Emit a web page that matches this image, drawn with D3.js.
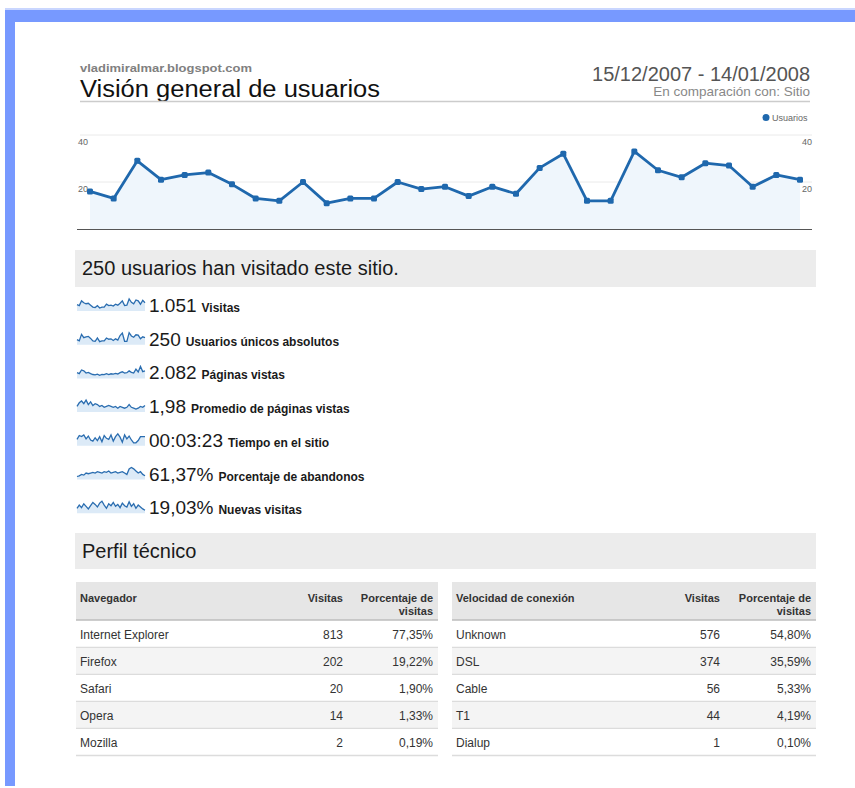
<!DOCTYPE html>
<html><head><meta charset="utf-8">
<script src="https://cdn.jsdelivr.net/npm/d3@7"></script>
<style>
html,body{margin:0;padding:0;background:#fff;}
svg{display:block;font-family:"Liberation Sans",Arial,Helvetica,sans-serif;}
</style></head><body>
<svg id="c" width="855" height="788"></svg>
<script>
// ---------- data ----------
const siteName = "vladimiralmar.blogspot.com";
const pageTitle = "Visión general de usuarios";
const dateRange = "15/12/2007 - 14/01/2008";
const comparison = "En comparación con: Sitio";
const seriesName = "Usuarios";
const startDate = new Date(2007, 11, 15);
const endDate = new Date(2008, 0, 15);
const usuarios = [16,13,29,21,23,24,19,13,12,20,11,13,13,20,17,18,14,18,15,26,32,12,12,33,25,22,28,27,18,23,21];
const yTicks = [20, 40];

const summaryText = "250 usuarios han visitado este sitio.";
const metricValues = ["1.051", "250", "2.082", "1,98", "00:03:23", "61,37%", "19,03%"];
const metricLabels = ["Visitas", "Usuarios únicos absolutos", "Páginas vistas", "Promedio de páginas vistas", "Tiempo en el sitio", "Porcentaje de abandonos", "Nuevas visitas"];
const sparkVisitas   = [32,30,40,36,34,35,31,27,26,30,25,27,27,33,30,31,29,33,31,35,40,30,31,44,37,34,42,40,33,41,36];
const sparkUsuarios  = usuarios;
const sparkPaginas   = [60,55,75,70,58,62,55,50,48,52,45,50,49,55,50,54,52,56,53,60,65,58,60,70,62,58,80,64,95,66,70];
const sparkPromedio  = [1.9,2.3,2.5,2.2,2.6,2.1,2.4,2.0,2.2,2.1,1.9,2.0,1.8,1.9,2.0,1.9,1.8,1.9,1.7,1.9,1.8,1.7,1.8,2.1,1.8,1.7,1.6,1.7,1.9,1.8,2.0];
const sparkTiempo    = [180,250,230,260,190,240,170,150,210,160,230,140,250,200,180,260,150,230,280,220,130,260,190,240,170,120,120,160,230,230,230];
const sparkAbandonos = [55,56,58,57,60,59,60,61,60,62,61,60,62,61,63,60,61,62,60,61,62,60,58,66,68,66,63,60,62,58,56];
const sparkNuevas    = [15,20,16,22,18,14,19,24,21,17,23,26,20,15,22,19,24,18,21,16,23,19,17,25,18,22,15,20,17,14,12];
const sparkSeries = [sparkVisitas, sparkUsuarios, sparkPaginas, sparkPromedio, sparkTiempo, sparkAbandonos, sparkNuevas];

const sectionTitle = "Perfil técnico";
const browserHeader = ["Navegador", "Visitas", "Porcentaje de", "visitas"];
const browserNames  = ["Internet Explorer", "Firefox", "Safari", "Opera", "Mozilla"];
const browserVisits = [813, 202, 20, 14, 2];
const browserPct    = ["77,35%", "19,22%", "1,90%", "1,33%", "0,19%"];
const connHeader = ["Velocidad de conexión", "Visitas", "Porcentaje de", "visitas"];
const connNames  = ["Unknown", "DSL", "Cable", "T1", "Dialup"];
const connVisits = [576, 374, 56, 44, 1];
const connPct    = ["54,80%", "35,59%", "5,33%", "4,19%", "0,10%"];

// ---------- drawing ----------
const svg = d3.select("#c");
const blue = "#1f68ad";

// frame
svg.append("rect").attr("x", 5).attr("y", 8).attr("width", 850).attr("height", 2).attr("fill", "#c9d6ff");
svg.append("rect").attr("x", 5).attr("y", 10).attr("width", 850).attr("height", 12).attr("fill", "#7799ff");
svg.append("rect").attr("x", 5).attr("y", 10).attr("width", 10).attr("height", 776).attr("fill", "#7799ff");

// header
svg.append("text").attr("x", 80).attr("y", 72).attr("font-size", 11.5).attr("font-weight", "bold")
  .attr("fill", "#808080").attr("textLength", 172).attr("lengthAdjust", "spacingAndGlyphs").text(siteName);
svg.append("text").attr("x", 80).attr("y", 97).attr("font-size", 23.5).attr("fill", "#111")
  .attr("textLength", 300).attr("lengthAdjust", "spacingAndGlyphs").text(pageTitle);
svg.append("text").attr("x", 810).attr("y", 81).attr("text-anchor", "end").attr("font-size", 20).attr("fill", "#555").text(dateRange);
svg.append("text").attr("x", 810).attr("y", 96).attr("text-anchor", "end").attr("font-size", 13.5).attr("fill", "#888").text(comparison);
svg.append("line").attr("x1", 80).attr("x2", 810).attr("y1", 101.5).attr("y2", 101.5).attr("stroke", "#ccc").attr("stroke-width", 1.5);

// legend
svg.append("circle").attr("cx", 766).attr("cy", 117.5).attr("r", 3.5).attr("fill", blue);
svg.append("text").attr("x", 772).attr("y", 120.5).attr("font-size", 9).attr("fill", "#666").text(seriesName);

// main chart
const dates = d3.timeDay.range(startDate, endDate);
const x = d3.scaleTime().domain([dates[0], dates[dates.length - 1]]).range([90, 800]);
const y = d3.scaleLinear().domain([0, 40]).range([229, 135]);
const pts = dates.map((d, i) => ({d, v: usuarios[i]}));

svg.append("g").selectAll("line").data(yTicks).join("line")
  .attr("x1", 80).attr("x2", 812).attr("y1", d => y(d)).attr("y2", d => y(d))
  .attr("stroke", "#eaeaea");

svg.append("path").datum(pts)
  .attr("d", d3.area().x(p => x(p.d)).y0(y(0)).y1(p => y(p.v)))
  .attr("fill", "#eff6fc");

const axL = svg.append("g").attr("transform", "translate(78,0)")
  .call(d3.axisRight(y).tickValues(yTicks).tickSize(0).tickPadding(0));
axL.select(".domain").remove();
axL.selectAll("text").attr("font-size", 9).attr("fill", "#666").attr("dy", "9");
const axR = svg.append("g").attr("transform", "translate(812,0)")
  .call(d3.axisLeft(y).tickValues(yTicks).tickSize(0).tickPadding(0));
axR.select(".domain").remove();
axR.selectAll("text").attr("font-size", 9).attr("fill", "#666").attr("dy", "9");
svg.selectAll(".tick text").attr("font-family", "Liberation Sans, Arial, sans-serif");

svg.append("path").datum(pts)
  .attr("d", d3.line().x(p => x(p.d)).y(p => y(p.v)))
  .attr("fill", "none").attr("stroke", blue).attr("stroke-width", 2.8).attr("stroke-linejoin", "round");
svg.append("g").selectAll("rect").data(pts).join("rect")
  .attr("x", p => x(p.d) - 3).attr("y", p => y(p.v) - 3).attr("width", 6).attr("height", 6).attr("rx", 1.5)
  .attr("fill", blue);

svg.append("line").attr("x1", 77).attr("x2", 812).attr("y1", 229.5).attr("y2", 229.5).attr("stroke", "#555").attr("stroke-width", 1.2);

// summary box
svg.append("rect").attr("x", 75).attr("y", 250).attr("width", 741).attr("height", 37).attr("fill", "#ececec");
svg.append("text").attr("x", 82).attr("y", 275).attr("font-size", 20).attr("fill", "#1a1a1a").text(summaryText);

// metric rows with sparklines
const rowY = d3.range(metricValues.length).map(i => 305 + i * 33.7);
const sx = d3.scaleLinear().domain([0, 30]).range([77, 145]);
metricValues.forEach((val, i) => {
  const cy = rowY[i];
  const data = sparkSeries[i];
  const ext = d3.extent(data);
  const sy = d3.scaleLinear().domain(ext).range([cy + 3, cy - 6]);
  const g = svg.append("g");
  g.append("path").datum(data)
    .attr("d", d3.area().x((d, j) => sx(j)).y0(cy + 6).y1(d => sy(d)))
    .attr("fill", "#dceaf7");
  g.append("path").datum(data)
    .attr("d", d3.line().x((d, j) => sx(j)).y(d => sy(d)))
    .attr("fill", "none").attr("stroke", "#2a6db0").attr("stroke-width", 1.3);
  const t = svg.append("text").attr("x", 149).attr("y", cy + 7).attr("fill", "#1a1a1a");
  t.append("tspan").attr("font-size", 19).text(val);
  t.append("tspan").attr("font-size", 12).attr("font-weight", "bold").attr("dx", 5).text(metricLabels[i]);
});

// section box
svg.append("rect").attr("x", 75).attr("y", 533).attr("width", 741).attr("height", 36).attr("fill", "#ececec");
svg.append("text").attr("x", 82).attr("y", 558).attr("font-size", 20).attr("fill", "#1a1a1a").text(sectionTitle);

// tables
function drawTable(x0, x1, header, names, visits, pcts, visRight, pctRight) {
  const g = svg.append("g").attr("font-size", 12);
  g.append("rect").attr("x", x0).attr("y", 582).attr("width", x1 - x0).attr("height", 38).attr("fill", "#e6e6e6");
  g.append("line").attr("x1", x0).attr("x2", x1).attr("y1", 620).attr("y2", 620).attr("stroke", "#bdbdbd").attr("stroke-width", 1.5);
  const h = g.append("g").attr("font-size", 11).attr("font-weight", "bold").attr("fill", "#333");
  h.append("text").attr("x", x0 + 4).attr("y", 602).text(header[0]);
  h.append("text").attr("x", visRight).attr("y", 602).attr("text-anchor", "end").text(header[1]);
  h.append("text").attr("x", pctRight).attr("y", 602).attr("text-anchor", "end").text(header[2]);
  h.append("text").attr("x", pctRight).attr("y", 615).attr("text-anchor", "end").text(header[3]);
  const rowH = 27;
  const rows = g.selectAll("g.row").data(names).join("g").attr("class", "row")
    .attr("transform", (d, i) => `translate(0,${621 + i * rowH})`);
  rows.append("rect").attr("x", x0).attr("width", x1 - x0).attr("height", rowH - 1)
    .attr("fill", (d, i) => i % 2 ? "#f4f4f4" : "#fff");
  rows.append("line").attr("x1", x0).attr("x2", x1).attr("y1", rowH - 0.5).attr("y2", rowH - 0.5)
    .attr("stroke", "#dcdcdc").attr("stroke-width", 1.5);
  rows.append("text").attr("x", x0 + 4).attr("y", 18).attr("fill", "#333").text(d => d);
  rows.append("text").attr("x", visRight).attr("y", 18).attr("text-anchor", "end").attr("fill", "#333").text((d, i) => visits[i]);
  rows.append("text").attr("x", pctRight).attr("y", 18).attr("text-anchor", "end").attr("fill", "#333").text((d, i) => pcts[i]);
}
drawTable(76, 438, browserHeader, browserNames, browserVisits, browserPct, 343, 433);
drawTable(452, 816, connHeader, connNames, connVisits, connPct, 720, 811);
</script>
</body></html>
